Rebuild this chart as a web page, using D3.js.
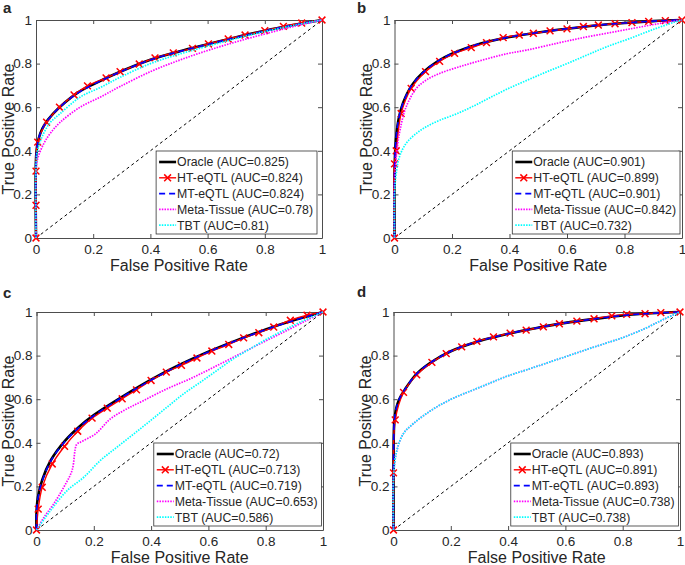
<!DOCTYPE html>
<html lang="en">
<head>
<meta charset="UTF-8">
<title>ROC curves</title>
<script src="https://cdn.jsdelivr.net/npm/d3@7"></script>
<style>
  body { margin: 0; background: #fff; }
  text { font-family: "Liberation Sans", Arial, Helvetica, sans-serif; fill: #262626; }
</style>
</head>
<body>
<script>
// ---- data: [FPR, TPR] points ----
// panel a
var aOracle = [[0,0],[0,0.36],[0.005,0.43],[0.015,0.48],[0.03,0.52],[0.06,0.57],[0.1,0.62],[0.15,0.67],[0.2,0.705],[0.3,0.766],[0.4,0.818],[0.5,0.856],[0.6,0.889],[0.7,0.921],[0.8,0.951],[0.9,0.977],[1,1]];
var aHT = [[0,0],[0,0.15],[0,0.307],[0.006,0.44],[0.037,0.531],[0.082,0.6],[0.133,0.656],[0.18,0.698],[0.245,0.734],[0.294,0.763],[0.361,0.798],[0.416,0.826],[0.48,0.849],[0.547,0.87],[0.603,0.89],[0.672,0.913],[0.731,0.931],[0.8,0.951],[0.865,0.971],[0.929,0.986],[1,1]];
var aMT = [[0,0],[0,0.35],[0.005,0.43],[0.015,0.48],[0.03,0.52],[0.06,0.57],[0.1,0.62],[0.15,0.668],[0.2,0.704],[0.3,0.765],[0.4,0.817],[0.5,0.855],[0.6,0.888],[0.7,0.92],[0.8,0.95],[0.9,0.977],[1,1]];
var aMeta = [[0,0],[0,0.3],[0.005,0.36],[0.026,0.43],[0.05,0.48],[0.084,0.53],[0.154,0.6],[0.224,0.646],[0.294,0.695],[0.4,0.763],[0.5,0.815],[0.6,0.86],[0.7,0.9],[0.8,0.936],[0.9,0.97],[1,1]];
var aTBT = [[0,0],[0,0.33],[0.005,0.4],[0.026,0.478],[0.05,0.53],[0.084,0.57],[0.154,0.646],[0.224,0.69],[0.294,0.737],[0.4,0.8],[0.5,0.843],[0.6,0.88],[0.7,0.915],[0.8,0.947],[0.9,0.975],[1,1]];
// panel b
var bOracle = [[0,0],[0,0.3],[0.005,0.45],[0.015,0.55],[0.03,0.62],[0.06,0.7],[0.1,0.76],[0.15,0.81],[0.2,0.845],[0.3,0.892],[0.4,0.922],[0.5,0.943],[0.6,0.96],[0.7,0.975],[0.8,0.986],[0.9,0.995],[1,1]];
var bHT = [[0,0],[0,0.34],[0.006,0.4],[0.023,0.571],[0.058,0.686],[0.108,0.763],[0.157,0.81],[0.209,0.847],[0.267,0.873],[0.32,0.896],[0.378,0.919],[0.434,0.931],[0.483,0.939],[0.541,0.95],[0.6,0.959],[0.657,0.97],[0.709,0.977],[0.767,0.983],[0.826,0.988],[0.884,0.994],[0.942,0.997],[1,1]];
var bMT = [[0,0],[0,0.3],[0.005,0.45],[0.015,0.55],[0.03,0.62],[0.06,0.7],[0.1,0.76],[0.15,0.81],[0.2,0.845],[0.3,0.892],[0.4,0.922],[0.5,0.943],[0.6,0.96],[0.7,0.975],[0.8,0.986],[0.9,0.995],[1,1]];
var bMeta = [[0,0],[0,0.25],[0.01,0.42],[0.02,0.5],[0.04,0.6],[0.076,0.686],[0.11,0.724],[0.157,0.755],[0.227,0.786],[0.308,0.817],[0.39,0.845],[0.46,0.862],[0.564,0.893],[0.645,0.916],[0.738,0.939],[0.831,0.962],[0.913,0.982],[1,1]];
var bTBT = [[0,0],[0,0.2],[0.006,0.296],[0.017,0.372],[0.04,0.433],[0.076,0.48],[0.11,0.51],[0.157,0.54],[0.215,0.569],[0.273,0.604],[0.331,0.643],[0.39,0.682],[0.46,0.723],[0.529,0.762],[0.6,0.8],[0.669,0.839],[0.738,0.877],[0.82,0.916],[0.901,0.957],[0.971,0.989],[1,1]];
// panel c
var cOracle = [[0,0],[0,0.08],[0.005,0.15],[0.02,0.23],[0.05,0.32],[0.1,0.41],[0.15,0.475],[0.2,0.527],[0.3,0.612],[0.4,0.69],[0.5,0.758],[0.6,0.818],[0.7,0.871],[0.8,0.92],[0.9,0.963],[1,1]];
var cHT = [[0,0],[0.006,0.096],[0.02,0.196],[0.055,0.303],[0.098,0.384],[0.144,0.453],[0.194,0.513],[0.247,0.559],[0.299,0.602],[0.349,0.643],[0.4,0.686],[0.453,0.724],[0.506,0.755],[0.56,0.789],[0.612,0.821],[0.671,0.851],[0.723,0.881],[0.776,0.905],[0.828,0.931],[0.886,0.962],[0.944,0.985],[1,1]];
var cMT = [[0,0],[0,0.07],[0.005,0.145],[0.02,0.225],[0.05,0.317],[0.1,0.407],[0.15,0.472],[0.2,0.524],[0.3,0.61],[0.4,0.688],[0.5,0.757],[0.6,0.817],[0.7,0.87],[0.8,0.919],[0.9,0.962],[1,1]];
var cMeta = [[0,0],[0.026,0.058],[0.06,0.12],[0.095,0.196],[0.124,0.273],[0.14,0.392],[0.153,0.403],[0.206,0.441],[0.258,0.51],[0.316,0.556],[0.374,0.594],[0.456,0.648],[0.537,0.694],[0.619,0.747],[0.7,0.801],[0.781,0.855],[0.863,0.908],[0.944,0.962],[1,1]];
var cTBT = [[0,0],[0.049,0.089],[0.107,0.181],[0.165,0.242],[0.223,0.319],[0.281,0.38],[0.34,0.441],[0.398,0.502],[0.456,0.564],[0.514,0.625],[0.572,0.678],[0.63,0.732],[0.688,0.786],[0.747,0.832],[0.805,0.877],[0.863,0.916],[0.921,0.954],[1,1]];
// panel d
var dOracle = [[0,0],[0,0.3],[0.003,0.5],[0.01,0.56],[0.02,0.6],[0.04,0.645],[0.08,0.715],[0.13,0.768],[0.2,0.82],[0.3,0.867],[0.4,0.9],[0.5,0.927],[0.6,0.95],[0.7,0.968],[0.8,0.984],[0.9,0.994],[1,1]];
var dHT = [[0,0],[0,0.262],[0.006,0.505],[0.035,0.631],[0.081,0.712],[0.134,0.769],[0.184,0.809],[0.238,0.84],[0.291,0.865],[0.349,0.886],[0.407,0.903],[0.463,0.917],[0.523,0.932],[0.579,0.946],[0.64,0.958],[0.7,0.969],[0.762,0.982],[0.814,0.989],[0.878,0.992],[0.933,0.997],[1,1]];
var dMT = [[0,0],[0,0.3],[0.003,0.5],[0.01,0.56],[0.02,0.6],[0.04,0.645],[0.08,0.715],[0.13,0.768],[0.2,0.82],[0.3,0.867],[0.4,0.9],[0.5,0.927],[0.6,0.95],[0.7,0.968],[0.8,0.984],[0.9,0.994],[1,1]];
var dMeta = [[0,0],[0,0.243],[0.012,0.366],[0.035,0.443],[0.07,0.489],[0.116,0.535],[0.163,0.574],[0.221,0.612],[0.279,0.643],[0.337,0.674],[0.395,0.705],[0.465,0.735],[0.535,0.766],[0.605,0.797],[0.674,0.828],[0.744,0.858],[0.814,0.889],[0.884,0.928],[0.942,0.966],[1,1]];
var dTBT = [[0,0],[0,0.243],[0.012,0.366],[0.035,0.443],[0.07,0.489],[0.116,0.535],[0.163,0.574],[0.221,0.612],[0.279,0.643],[0.337,0.674],[0.395,0.705],[0.465,0.735],[0.535,0.766],[0.605,0.797],[0.674,0.828],[0.744,0.858],[0.814,0.889],[0.884,0.928],[0.942,0.966],[1,1]];

var seriesNames = ["Oracle", "HT-eQTL", "MT-eQTL", "Meta-Tissue", "TBT"];
var aucA = ["0.825", "0.824", "0.824", "0.78", "0.81"];
var aucB = ["0.901", "0.899", "0.901", "0.842", "0.732"];
var aucC = ["0.72", "0.713", "0.719", "0.653", "0.586"];
var aucD = ["0.893", "0.891", "0.893", "0.738", "0.738"];
var tickValues = [0, 0.2, 0.4, 0.6, 0.8, 1];
var tickLabels = ["0", "0.2", "0.4", "0.6", "0.8", "1"];

var width = 685, height = 565;
var svg = d3.select("body").append("svg").attr("width", width).attr("height", height);

// line styles in legend order
var styles = [
    { color: "#000000", w: 2.6, dash: null },
    { color: "#ff0000", w: 1.4, dash: null, marker: true },
    { color: "#0000ff", w: 1.6, dash: "6,4" },
    { color: "#ff00ff", w: 1.7, dash: "1.5,1.2" },
    { color: "#00ffff", w: 1.7, dash: "1.5,1.2" }
];

var panels = [
    { letter: "a", lx: 3, ly: 13, left: 36, top: 20, right: 322, bottom: 238, legInset: 5, series: [aOracle, aHT, aMT, aMeta, aTBT], auc: aucA },
    { letter: "b", lx: 357, ly: 13, left: 394.5, top: 20, right: 682, bottom: 238, legInset: 2, series: [bOracle, bHT, bMT, bMeta, bTBT], auc: aucB },
    { letter: "c", lx: 3, ly: 298, left: 36.5, top: 312, right: 323, bottom: 530, legInset: 1.5, series: [cOracle, cHT, cMT, cMeta, cTBT], auc: aucC },
    { letter: "d", lx: 357, ly: 297, left: 393.5, top: 312, right: 680, bottom: 530, legInset: 1.5, series: [dOracle, dHT, dMT, dMeta, dTBT], auc: aucD }
];

// MATLAB style 'x' marker
function xMark(size) {
    return "M" + (-size) + "," + (-size) + "L" + size + "," + size +
           "M" + (-size) + "," + size + "L" + size + "," + (-size);
}

panels.forEach(function(p) {
    var x = d3.scaleLinear().domain([0, 1]).range([p.left, p.right]);
    var y = d3.scaleLinear().domain([0, 1]).range([p.bottom, p.top]);
    var g = svg.append("g");

    // axes box, ticks pointing inward
    var fmt = function(d, i) { return tickLabels[i]; };
    var axB = g.append("g").attr("transform", "translate(0," + p.bottom + ")")
        .call(d3.axisBottom(x).tickValues(tickValues).tickFormat(fmt).tickSizeInner(-4).tickSizeOuter(0).tickPadding(6));
    var axL = g.append("g").attr("transform", "translate(" + p.left + ",0)")
        .call(d3.axisLeft(y).tickValues(tickValues).tickFormat(fmt).tickSizeInner(-4).tickSizeOuter(0).tickPadding(4));
    var axT = g.append("g").attr("transform", "translate(0," + p.top + ")")
        .call(d3.axisTop(x).tickValues(tickValues).tickFormat("").tickSizeInner(-4).tickSizeOuter(0));
    var axR = g.append("g").attr("transform", "translate(" + p.right + ",0)")
        .call(d3.axisRight(y).tickValues(tickValues).tickFormat("").tickSizeInner(-4).tickSizeOuter(0));
    [axB, axL, axT, axR].forEach(function(a) {
        a.selectAll("path, line").attr("stroke", "#4d4d4d").attr("stroke-width", 1);
        a.selectAll("text").attr("font-size", 13.5).attr("fill", "#262626")
            .style("font-family", "'Liberation Sans', Arial, sans-serif");
    });

    // chance line
    g.append("line")
        .attr("x1", x(0)).attr("y1", y(0)).attr("x2", x(1)).attr("y2", y(1))
        .attr("stroke", "#000").attr("stroke-width", 1).attr("stroke-dasharray", "3,3");

    var line = d3.line()
        .x(function(d) { return x(d[0]); })
        .y(function(d) { return y(d[1]); })
        .curve(d3.curveCatmullRom.alpha(0.5));

    p.series.forEach(function(s, i) {
        var st = styles[i];
        g.append("path").datum(s)
            .attr("d", line)
            .attr("fill", "none")
            .attr("stroke", st.color)
            .attr("stroke-width", st.w)
            .attr("stroke-dasharray", st.dash);
        if (st.marker) {
            g.selectAll(".mk" + i).data(s).enter().append("path")
                .attr("transform", function(d) { return "translate(" + x(d[0]) + "," + y(d[1]) + ")"; })
                .attr("d", xMark(3.4))
                .attr("stroke", st.color).attr("stroke-width", 1.5).attr("fill", "none");
        }
    });

    // legend
    var leg = g.append("g");
    var labels = seriesNames.map(function(n, i) { return n + " (AUC=" + p.auc[i] + ")"; });
    var rowH = 15.8, legH = 83;
    var texts = leg.selectAll("text").data(labels).enter().append("text")
        .attr("font-size", 12.3).attr("fill", "#000")
        .text(function(d) { return d; });
    var maxW = d3.max(texts.nodes(), function(n) { return n.getComputedTextLength(); });
    var legW = maxW + 25;
    var lx = p.right - p.legInset - legW, ly = p.bottom - 4 - legH;
    leg.insert("rect", "text")
        .attr("x", lx).attr("y", ly).attr("width", legW).attr("height", legH)
        .attr("fill", "#fff").attr("stroke", "#333").attr("stroke-width", 0.8);
    texts.attr("x", lx + 21).attr("y", function(d, i) { return ly + 11 + i * rowH; }).attr("dy", "0.35em");
    styles.forEach(function(st, i) {
        var yy = ly + 11 + i * rowH;
        leg.append("line")
            .attr("x1", lx + 3).attr("x2", lx + 20).attr("y1", yy).attr("y2", yy)
            .attr("stroke", st.color).attr("stroke-width", st.w).attr("stroke-dasharray", st.dash);
        if (st.marker) {
            leg.append("path").attr("transform", "translate(" + (lx + 11.5) + "," + yy + ")")
                .attr("d", xMark(3.4)).attr("stroke", st.color).attr("stroke-width", 1.5);
        }
    });

    // axis labels
    g.append("text")
        .attr("x", (p.left + p.right) / 2).attr("y", p.bottom + 33)
        .attr("text-anchor", "middle").attr("font-size", 16)
        .text("False Positive Rate");
    g.append("text")
        .attr("transform", "translate(" + (p.left - 22.5) + "," + ((p.top + p.bottom) / 2) + ") rotate(-90)")
        .attr("text-anchor", "middle").attr("font-size", 16)
        .text("True Positive Rate");

    // panel letter
    g.append("text").attr("x", p.lx).attr("y", p.ly)
        .attr("font-size", 15).attr("font-weight", "bold").attr("fill", "#000")
        .text(p.letter);
});
</script>
</body>
</html>
